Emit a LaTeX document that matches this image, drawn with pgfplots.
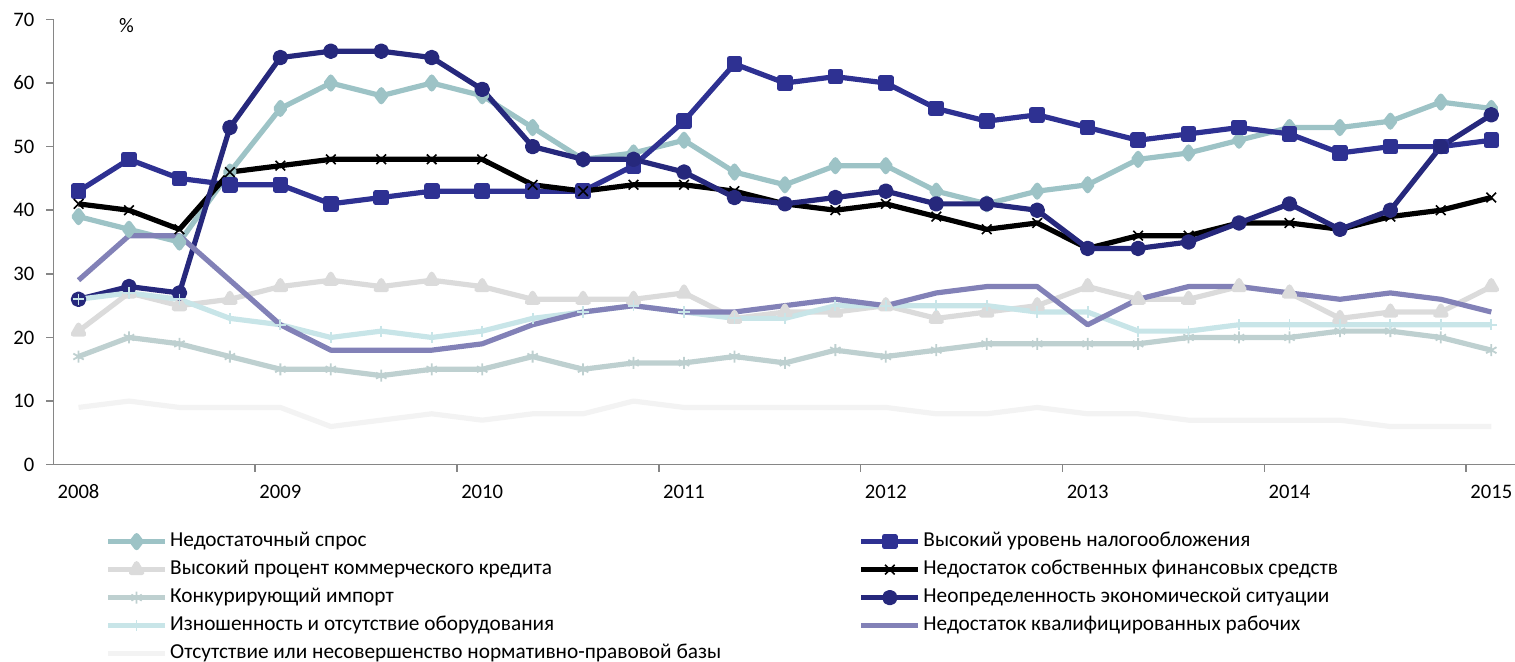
\documentclass[border=0pt]{standalone}
\usepackage{fontspec}
\setmainfont{Carlito}
\usepackage{pgfplots}
\usepackage{pgfplotstable}
\pgfplotsset{compat=1.18}
\definecolor{axisgray}{RGB}{134,134,134}
\definecolor{cA}{RGB}{157,195,198}
\definecolor{cB}{RGB}{46,49,146}
\definecolor{cC}{RGB}{219,219,219}
\definecolor{cD}{RGB}{0,0,0}
\definecolor{cE}{RGB}{190,208,208}
\definecolor{cF}{RGB}{38,40,124}
\definecolor{cG}{RGB}{200,229,232}
\definecolor{cH}{RGB}{130,129,183}
\definecolor{cI}{RGB}{243,243,243}
\pgfplotstableread{
x s1 s2 s3 s4 s5 s6 s7 s8 s9
0 39 43 21 41 17 26 26 29 9
1 37 48 27 40 20 28 27 36 10
2 35 45 25 37 19 27 26 36 9
3 46 44 26 46 17 53 23 29 9
4 56 44 28 47 15 64 22 22 9
5 60 41 29 48 15 65 20 18 6
6 58 42 28 48 14 65 21 18 7
7 60 43 29 48 15 64 20 18 8
8 58 43 28 48 15 59 21 19 7
9 53 43 26 44 17 50 23 22 8
10 48 43 26 43 15 48 24 24 8
11 49 47 26 44 16 48 25 25 10
12 51 54 27 44 16 46 24 24 9
13 46 63 23 43 17 42 23 24 9
14 44 60 24 41 16 41 23 25 9
15 47 61 24 40 18 42 25 26 9
16 47 60 25 41 17 43 25 25 9
17 43 56 23 39 18 41 25 27 8
18 41 54 24 37 19 41 25 28 8
19 43 55 25 38 19 40 24 28 9
20 44 53 28 34 19 34 24 22 8
21 48 51 26 36 19 34 21 26 8
22 49 52 26 36 20 35 21 28 7
23 51 53 28 38 20 38 22 28 7
24 53 52 27 38 20 41 22 27 7
25 53 49 23 37 21 37 22 26 7
26 54 50 24 39 21 40 22 27 6
27 57 50 24 40 20 50 22 26 6
28 56 51 28 42 18 55 22 24 6
}\datatable
\begin{document}
\begin{tikzpicture}
\begin{axis}[
  at={(26.65pt,98.65pt)}, anchor=south west,
  scale only axis, width=730.85pt, height=222.65pt,
  xmin=-0.5, xmax=28.47, ymin=0, ymax=70,
  axis x line=bottom, axis y line=left,
  axis line style={draw=axisgray, line width=0.75pt, -},
  xtick={0,4,8,12,16,20,24,28},
  xticklabels={2008,2009,2010,2011,2012,2013,2014,2015},
  minor xtick={3.5,7.5,11.5,15.5,19.5,23.5,27.5},
  ytick={0,10,20,30,40,50,60,70},
  tick align=outside, major tick length=3.5pt, minor tick length=3.5pt,
  tick style={draw=axisgray, line width=0.75pt},
  major x tick style={draw=none},
  ticklabel style={font=\fontsize{10.3}{12}\selectfont},
  /pgf/number format/assume math mode=true,
  xticklabel shift=3pt,
  yticklabel shift=2.5pt,
  clip=false,
  every axis plot/.append style={line width=2.6pt, line join=round},
  legend columns=2, legend cell align=left,
  legend image code/.code={\draw[#1, mark repeat=2, mark phase=2] plot coordinates {(0pt,0pt) (14.25pt,0pt) (28.5pt,0pt)};},
  legend style={at={(0.0357,-0.1413)}, anchor=north west, draw=none, fill=none,
    inner sep=0pt, outer sep=0pt, font=\fontsize{10.65}{12}\selectfont,
    nodes={inner xsep=1.25pt, inner ysep=2pt, text height=7.5pt, text depth=2.5pt},
    /tikz/column 2/.style={column sep=67.5pt}},
]
\addplot[color=cA, mark=diamond*, mark size=3pt, mark options={solid}] table[x=x,y=s1]{\datatable};
\addlegendentry{Недостаточный спрос}
\addplot[color=cB, mark=square*, mark size=2.6pt] table[x=x,y=s2]{\datatable};
\addlegendentry{Высокий уровень налогообложения}
\addplot[color=cC, mark=triangle*, mark size=3pt] table[x=x,y=s3]{\datatable};
\addlegendentry{Высокий процент коммерческого кредита}
\addplot[color=cD, mark=x, mark size=3.4pt, mark options={line width=0.8pt}] table[x=x,y=s4]{\datatable};
\addlegendentry{Недостаток собственных финансовых средств}
\addplot[color=cE, mark=asterisk, mark size=3pt, mark options={line width=0.9pt}] table[x=x,y=s5]{\datatable};
\addlegendentry{Конкурирующий импорт}
\addplot[color=cF, mark=*, mark size=2.6pt] table[x=x,y=s6]{\datatable};
\addlegendentry{Неопределенность экономической ситуации}
\addplot[color=cG, mark=+, mark size=2.8pt, mark options={line width=0.9pt}] table[x=x,y=s7]{\datatable};
\addlegendentry{Изношенность и отсутствие оборудования}
\addplot[color=cH, no marks] table[x=x,y=s8]{\datatable};
\addlegendentry{Недостаток квалифицированных рабочих}
\addplot[color=cI, no marks] table[x=x,y=s9]{\datatable};
\addlegendentry{Отсутствие или несовершенство нормативно-правовой базы}
\node[font=\fontsize{10.3}{12}\selectfont] at (axis cs:0.95,69.1) {\%};
\end{axis}
\pgfresetboundingbox
\path[use as bounding box] (0,0) rectangle (757.5pt,331pt);
\end{tikzpicture}
\end{document}
